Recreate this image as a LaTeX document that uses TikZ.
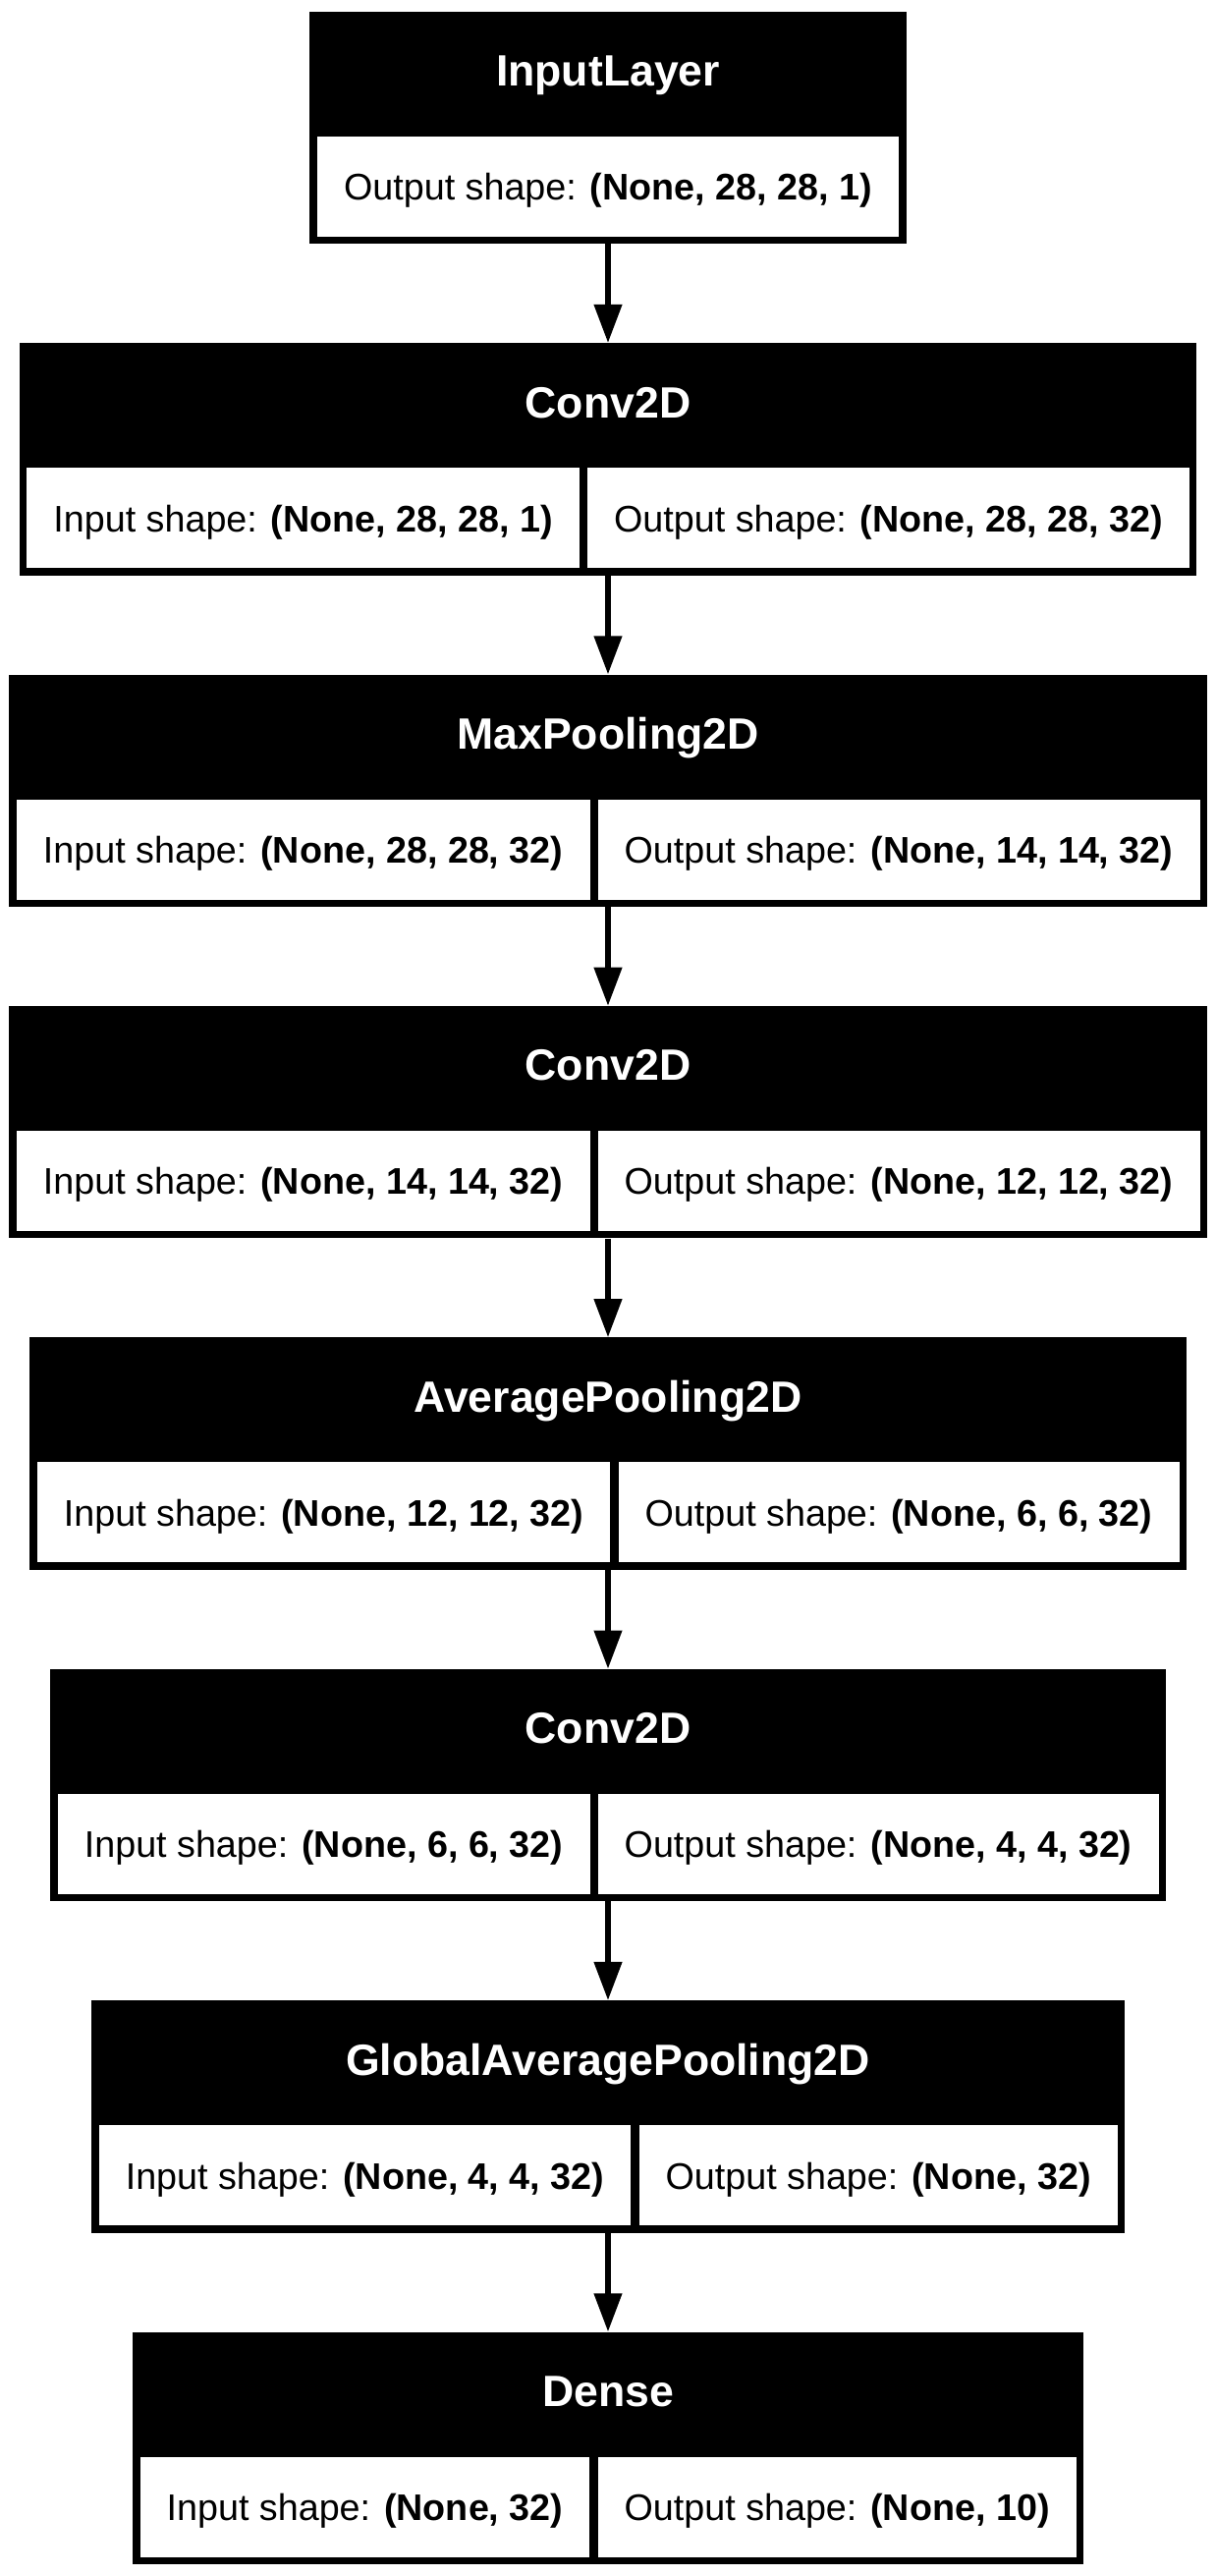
\documentclass[tikz,border=0pt]{standalone}
\usepackage{fontspec}
\setmainfont{Liberation Sans}
\usetikzlibrary{positioning,arrows.meta}

\begin{document}
\begin{tikzpicture}[x=1pt,y=-1pt,
    layer/.style={fill=black,text=white,anchor=north,inner sep=0pt,
      text height=76pt,text depth=160.5pt,
      font=\fontsize{44.6}{53}\selectfont\bfseries},
    cell/.style={fill=white,inner sep=0pt,minimum height=102pt,
      text height=38pt,text depth=10pt,
      font=\fontsize{37.7}{45}\selectfont},
    flow/.style={line width=5.3pt,-{Triangle[length=39pt,width=27.7pt]}}]

  \useasboundingbox (0,0) rectangle (1238,2622);

  \node[layer,minimum width=607.4pt] (inp) at (619,11.5) {InputLayer};
  \node[layer,minimum width=1198.6pt] (c1) at (619,348.9) {Conv2D};
  \node[layer,minimum width=1219.6pt] (p1) at (619,686.3) {MaxPooling2D};
  \node[layer,minimum width=1219.6pt] (c2) at (619,1023.7) {Conv2D};
  \node[layer,minimum width=1177.7pt] (p2) at (619,1361.1) {AveragePooling2D};
  \node[layer,minimum width=1135.8pt] (c3) at (619,1698.5) {Conv2D};
  \node[layer,minimum width=1052pt] (gap) at (619,2035.9) {GlobalAveragePooling2D};
  \node[layer,minimum width=968.1pt] (dns) at (619,2373.3) {Dense};

  \node[cell,minimum width=592pt,below right=127pt and 7.7pt of inp.north west] (inpo)
    {Output shape: \textbf{(None, 28, 28, 1)}};

  \node[cell,minimum width=562.6pt,below right=127pt and 7.7pt of c1.north west] (c1i)
    {Input shape: \textbf{(None, 28, 28, 1)}};
  \node[cell,minimum width=612.9pt,right=7.7pt of c1i] (c1o)
    {Output shape: \textbf{(None, 28, 28, 32)}};

  \node[cell,minimum width=583.6pt,below right=127pt and 7.7pt of p1.north west] (p1i)
    {Input shape: \textbf{(None, 28, 28, 32)}};
  \node[cell,minimum width=612.9pt,right=7.7pt of p1i] (p1o)
    {Output shape: \textbf{(None, 14, 14, 32)}};

  \node[cell,minimum width=583.6pt,below right=127pt and 7.7pt of c2.north west] (c2i)
    {Input shape: \textbf{(None, 14, 14, 32)}};
  \node[cell,minimum width=612.9pt,right=7.7pt of c2i] (c2o)
    {Output shape: \textbf{(None, 12, 12, 32)}};

  \node[cell,minimum width=583.6pt,below right=127pt and 7.7pt of p2.north west] (p2i)
    {Input shape: \textbf{(None, 12, 12, 32)}};
  \node[cell,minimum width=571pt,right=7.7pt of p2i] (p2o)
    {Output shape: \textbf{(None, 6, 6, 32)}};

  \node[cell,minimum width=541.7pt,below right=127pt and 7.7pt of c3.north west] (c3i)
    {Input shape: \textbf{(None, 6, 6, 32)}};
  \node[cell,minimum width=571pt,right=7.7pt of c3i] (c3o)
    {Output shape: \textbf{(None, 4, 4, 32)}};

  \node[cell,minimum width=541.7pt,below right=127pt and 7.7pt of gap.north west] (gapi)
    {Input shape: \textbf{(None, 4, 4, 32)}};
  \node[cell,minimum width=487.2pt,right=7.7pt of gapi] (gapo)
    {Output shape: \textbf{(None, 32)}};

  \node[cell,minimum width=457.8pt,below right=127pt and 7.7pt of dns.north west] (dnsi)
    {Input shape: \textbf{(None, 32)}};
  \node[cell,minimum width=487.2pt,right=7.7pt of dnsi] (dnso)
    {Output shape: \textbf{(None, 10)}};

  \path[flow]
    (inp) edge (c1)
    (c1)  edge (p1)
    (p1)  edge (c2)
    (c2)  edge (p2)
    (p2)  edge (c3)
    (c3)  edge (gap)
    (gap) edge (dns);

\end{tikzpicture}
\end{document}
